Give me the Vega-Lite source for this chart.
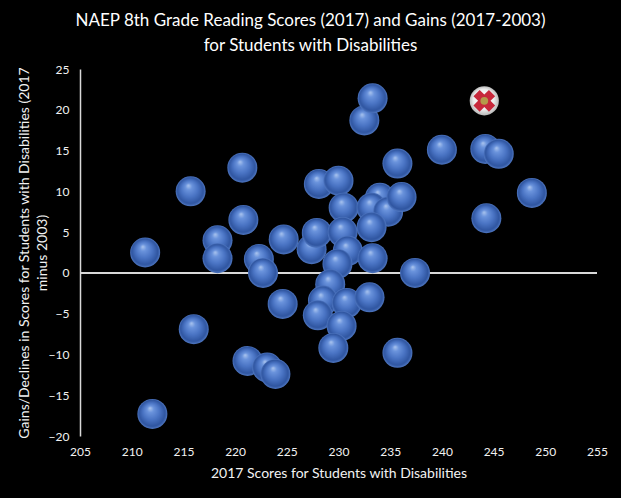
{
  "$schema": "https://vega.github.io/schema/vega-lite/v6.json",
  "width": 517,
  "height": 367,
  "autosize": {"type": "none"},
  "padding": {"left": 80, "top": 69, "right": 24, "bottom": 62},
  "background": "black",
  "title": {
    "text": ["NAEP 8th Grade Reading Scores (2017) and Gains (2017-2003)", "for Students with Disabilities"],
    "font": "Lato",
    "fontSize": 17,
    "fontWeight": "normal",
    "color": "white",
    "lineHeight": 25,
    "dx": -28,
    "offset": 8
  },
  "data": {
    "values": [
      {"score": 211.3, "gain": 2.5, "state": "Other"},
      {"score": 212.0, "gain": -17.3, "state": "Other"},
      {"score": 215.7, "gain": 10.0, "state": "Other"},
      {"score": 216.0, "gain": -6.9, "state": "Other"},
      {"score": 218.3, "gain": 4.0, "state": "Other"},
      {"score": 218.3, "gain": 1.8, "state": "Other"},
      {"score": 220.7, "gain": 12.9, "state": "Other"},
      {"score": 220.8, "gain": 6.5, "state": "Other"},
      {"score": 221.2, "gain": -10.8, "state": "Other"},
      {"score": 222.3, "gain": 1.7, "state": "Other"},
      {"score": 222.7, "gain": 0.0, "state": "Other"},
      {"score": 223.1, "gain": -11.6, "state": "Other"},
      {"score": 223.9, "gain": -12.4, "state": "Other"},
      {"score": 224.7, "gain": 4.1, "state": "Other"},
      {"score": 224.6, "gain": -3.8, "state": "Other"},
      {"score": 227.4, "gain": 2.9, "state": "Other"},
      {"score": 227.9, "gain": 4.9, "state": "Other"},
      {"score": 228.1, "gain": 10.9, "state": "Other"},
      {"score": 230.0, "gain": 11.3, "state": "Other"},
      {"score": 230.5, "gain": 8.0, "state": "Other"},
      {"score": 230.4, "gain": 5.0, "state": "Other"},
      {"score": 230.9, "gain": 2.7, "state": "Other"},
      {"score": 229.9, "gain": 1.1, "state": "Other"},
      {"score": 229.2, "gain": -1.4, "state": "Other"},
      {"score": 228.5, "gain": -3.4, "state": "Other"},
      {"score": 228.0, "gain": -5.2, "state": "Other"},
      {"score": 230.8, "gain": -3.7, "state": "Other"},
      {"score": 230.3, "gain": -6.5, "state": "Other"},
      {"score": 229.5, "gain": -9.2, "state": "Other"},
      {"score": 232.5, "gain": 18.7, "state": "Other"},
      {"score": 233.3, "gain": 21.4, "state": "Other"},
      {"score": 234.0, "gain": 9.2, "state": "Other"},
      {"score": 233.2, "gain": 8.0, "state": "Other"},
      {"score": 234.8, "gain": 7.5, "state": "Other"},
      {"score": 236.1, "gain": 9.3, "state": "Other"},
      {"score": 233.2, "gain": 5.6, "state": "Other"},
      {"score": 233.3, "gain": 1.8, "state": "Other"},
      {"score": 233.0, "gain": -3.0, "state": "Other"},
      {"score": 235.7, "gain": 13.4, "state": "Other"},
      {"score": 235.7, "gain": -9.8, "state": "Other"},
      {"score": 237.4, "gain": 0.0, "state": "Other"},
      {"score": 240.0, "gain": 15.1, "state": "Other"},
      {"score": 244.2, "gain": 15.2, "state": "Other"},
      {"score": 245.5, "gain": 14.6, "state": "Other"},
      {"score": 244.3, "gain": 6.7, "state": "Other"},
      {"score": 248.7, "gain": 9.8, "state": "Other"},
      {"score": 244.1, "gain": 21.1, "state": "Florida"}
    ]
  },
  "encoding": {
    "x": {
      "field": "score",
      "type": "quantitative",
      "scale": {"domain": [205, 255], "nice": false, "zero": false},
      "axis": {
        "values": [205, 210, 215, 220, 225, 230, 235, 240, 245, 250, 255],
        "title": "2017 Scores for Students with Disabilities",
        "domain": false,
        "labelFlush": false,
        "labelPadding": 10,
        "titlePadding": 9
      }
    },
    "y": {
      "field": "gain",
      "type": "quantitative",
      "scale": {"domain": [-20, 25], "nice": false, "zero": false},
      "axis": {
        "values": [-20, -15, -10, -5, 0, 5, 10, 15, 20, 25],
        "title": ["Gains/Declines in Scores for Students with Disabilities (2017", "minus 2003)"],
        "domain": true,
        "labelFlush": false,
        "labelPadding": 11,
        "titlePadding": -1,
        "titleLineHeight": 18
      }
    }
  },
  "layer": [
    {
      "mark": {"type": "rule", "color": "#d9d9d9", "strokeWidth": 1.5},
      "encoding": {"x": {"value": 0}, "x2": {"value": 517}, "y": {"datum": 0}}
    },
    {
      "transform": [{"filter": "datum.state === 'Other'"}],
      "mark": {
        "type": "point",
        "shape": "circle",
        "filled": true,
        "size": 900,
        "opacity": 1,
        "strokeWidth": 0,
        "color": {
          "gradient": "radial",
          "x1": 0.42, "y1": 0.3, "r1": 0,
          "x2": 0.5, "y2": 0.5, "r2": 0.5,
          "stops": [
            {"offset": 0, "color": "#adc6ef"},
            {"offset": 0.22, "color": "#6a93dc"},
            {"offset": 0.55, "color": "#4a74c4"},
            {"offset": 0.87, "color": "#2f55a0"},
            {"offset": 1, "color": "#5078c2"}
          ]
        }
      }
    },
    {
      "transform": [{"filter": "datum.state === 'Florida'"}],
      "mark": {
        "type": "point",
        "shape": "circle",
        "filled": true,
        "size": 850,
        "opacity": 1,
        "strokeWidth": 0,
        "color": {
          "gradient": "radial",
          "x1": 0.42, "y1": 0.35, "r1": 0,
          "x2": 0.5, "y2": 0.5, "r2": 0.5,
          "stops": [
            {"offset": 0, "color": "#ffffff"},
            {"offset": 0.7, "color": "#ededed"},
            {"offset": 1, "color": "#b8b8b8"}
          ]
        }
      }
    },
    {
      "transform": [{"filter": "datum.state === 'Florida'"}],
      "mark": {"type": "point", "shape": "cross", "angle": 45, "filled": true, "size": 480, "opacity": 1, "strokeWidth": 0, "color": "#c7283b"}
    },
    {
      "transform": [{"filter": "datum.state === 'Florida'"}],
      "mark": {"type": "point", "shape": "circle", "filled": true, "size": 60, "opacity": 1, "strokeWidth": 0, "color": "#b49a4a"}
    }
  ],
  "config": {
    "view": {"stroke": null},
    "axis": {
      "grid": false,
      "ticks": false,
      "domainColor": "#d9d9d9",
      "domainWidth": 1.5,
      "labelFont": "Lato",
      "labelFontSize": 12,
      "labelColor": "#f2f2f2",
      "titleFont": "Lato",
      "titleFontSize": 14,
      "titleFontWeight": "normal",
      "titleColor": "#f2f2f2"
    }
  }
}
